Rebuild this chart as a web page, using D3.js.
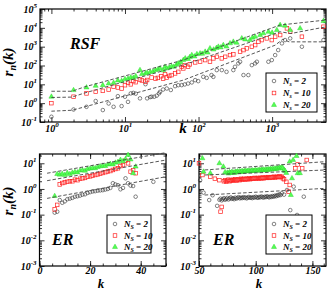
<!DOCTYPE html>
<html>
<head>
<meta charset="utf-8">
<script src="https://cdn.jsdelivr.net/npm/d3@7"></script>
<style>
  body { margin: 0; background: #fff; }
  text { font-family: "Liberation Serif", "DejaVu Serif", serif; font-weight: bold; font-style: italic; }
</style>
</head>
<body>
<svg width="327" height="291"></svg>
<script>
// ---- data: [k, r_n(k)] ----
const legendLabels = ["2", "10", "20"]

// RSF network
const rsfNs2 = [[1,0.19],[2,0.46],[3,0.64],[4,1.3],[5,0.43],[6,0.96],[7,0.64],[8,2.35],[9,0.7],[10,2.2],[11,1.17],[12,3.3],[13,3.5],[14,3.2],[16,1.8],[19,10.2],[20,1.8],[22,2.1],[23,2.2],[25,2.2],[27,2.5],[29,3.3],[30,4],[33,5.3],[37,6],[42,5],[48,8],[53,9],[59,9.1],[65,9.9],[72,11],[81,12.6],[90,16.7],[99,14.8],[116,25],[129,22],[150,31],[159,25],[177,57],[207,57],[240,46],[297,57],[313,85],[347,129],[367,158],[408,31],[475,31],[530,105],[588,129],[620,158],[890,158],[990,194],[1100,357],[1210,660],[1360,1500],[1500,2240],[1760,2760],[2540,990],[4990,2240]]
const rsfNs10 = [[1,1.0],[2,2.2],[3,3.3],[4,4],[5,4.5],[6,5.3],[7,7.4],[8,6.8],[9,6],[10,9],[11,12],[12,10],[13,15],[14,13],[16,18],[17,16],[19,14],[20,17],[23,23],[26,20],[28,22],[31,27],[33,20],[35,35],[37,23],[40,28],[43,31],[48,38],[53,46],[59,85],[62,70],[65,105],[72,85],[76,114],[90,146],[105,158],[123,194],[143,158],[159,239],[177,290],[207,239],[230,290],[268,357],[297,390],[367,537],[408,660],[453,813],[530,990],[588,1217],[651,1820],[724,2240],[847,2760],[990,2240],[1100,3380],[1285,4140],[1590,9400],[1760,6170],[2540,3380],[4990,11400]]
const rsfNs20 = [[1,2.2],[2,4.9],[3,6.8],[4,8.3],[5,9],[6,11],[7,12],[8,16],[9,15],[10,19],[11,20],[12,23],[13,22],[14,27],[16,57],[17,35],[19,38],[20,41],[22,45],[24,48],[26,57],[28,62],[30,70],[33,55],[35,85],[37,70],[40,78],[43,90],[46,85],[50,110],[53,130],[57,150],[62,195],[66,239],[72,220],[76,280],[81,357],[88,300],[95,400],[105,437],[112,420],[123,537],[133,480],[143,813],[160,700],[175,850],[186,990],[200,900],[217,1217],[240,1000],[268,1500],[297,1820],[330,1600],[387,2760],[430,2400],[500,2240],[540,3000],[588,3380],[687,4140],[760,5100],[891,6170],[1000,5500],[1160,7600],[1285,14100],[1500,12900],[1760,7600],[2400,9400],[4990,23000]]
const rsfFit2 = [[1,0.375],[1.9,0.42],[2.85,0.64],[62,16.7],[1100,1200],[1400,2500],[1700,1800],[5200,1800]]
const rsfFit10 = [[1,2.0],[1.9,2.1],[2.85,3.5],[62,105],[1285,6170],[1800,5000],[5200,11000]]
const rsfFit20 = [[1,4.3],[1.9,4.3],[2.85,7.4],[62,195],[1285,14100],[5200,25600]]

// ER network, small k
const erANs2 = [[6,0.12],[7,0.13],[8,0.37],[9,0.29],[10,0.33],[11,0.4],[12,0.42],[13,0.45],[14,0.5],[15,0.52],[16,0.55],[17,0.6],[18,0.62],[19,0.7],[20,0.75],[21,0.8],[22,0.82],[23,0.86],[24,0.88],[25,0.9],[26,0.95],[27,1.0],[28,1.1],[29,1.67],[30,1.5],[31,1.4],[32,0.97],[33,1.1],[34,2.6],[35,1.67],[36,1.35],[37,1.3],[38,0.5],[45,1.9]]
const erANs10 = [[6,0.16],[7,0.24],[8,1.5],[9,1.7],[10,1.8],[11,1.9],[12,2.0],[13,2.0],[14,2.3],[15,2.2],[16,2.5],[17,2.6],[18,2.7],[19,3.0],[20,3.1],[21,3.3],[22,3.5],[23,3.7],[24,3.9],[25,4.2],[26,4.5],[27,4.8],[28,5.0],[29,5.5],[30,6.0],[31,6.4],[32,7.8],[33,8.5],[34,12.6],[35,10],[36,4.7],[37,5.3],[38,4.1]]
const erANs20 = [[6,0.53],[7,3.8],[8,3.6],[9,3.9],[10,3.5],[11,4.2],[12,3.8],[13,4.3],[14,4.6],[15,4.4],[16,5.2],[17,5.4],[18,5.1],[19,6.0],[20,6.2],[21,6.6],[22,6.4],[23,7.1],[24,7.6],[25,8.0],[26,7.8],[27,8.9],[28,9.4],[29,9.0],[30,10.5],[31,11.2],[32,13.5],[33,12.0],[34,14.5],[35,21],[36,14],[37,4.1],[38,7.4]]
const erAFit2 = [[3,0.43],[50,3.0]]
const erAFit10 = [[3,2.1],[50,13.4]]
const erAFit20 = [[3,4.1],[50,26]]

// ER network, large k
const erBNs2 = [[51,2.2],[54,0.72],[59,0.37],[62,0.57],[66,0.22],[68,0.38],[69,0.42],[70,0.36],[71,0.40],[72,0.44],[73,0.38],[74,0.41],[75,0.45],[76,0.39],[77,0.43],[78,0.47],[79,0.41],[80,0.44],[81,0.40],[82,0.46],[83,0.42],[84,0.45],[85,0.48],[86,0.43],[87,0.46],[88,0.44],[89,0.48],[90,0.45],[91,0.47],[92,0.43],[93,0.46],[94,0.49],[95,0.45],[96,0.47],[97,0.44],[98,0.48],[99,0.46],[100,0.50],[101,0.47],[102,0.45],[103,0.49],[104,0.47],[105,0.51],[106,0.48],[107,0.46],[108,0.50],[109,0.48],[110,0.52],[111,0.49],[112,0.47],[113,0.51],[114,0.49],[115,0.53],[116,0.50],[117,0.55],[118,0.52],[119,0.58],[120,0.55],[121,0.62],[122,0.58],[123,0.68],[125,0.6],[127.6,0.91],[130.5,0.15],[133.5,1.23],[136.5,0.097],[142.4,0.5]]
const erBNs10 = [[50,10],[53,3.5],[60,3.0],[64,2.5],[68,2.2],[69,0.13],[70,0.2],[72,2.0],[73,2.2],[74,1.9],[75,2.1],[76,2.3],[77,2.0],[78,2.2],[79,2.1],[80,2.3],[81,2.2],[82,2.4],[83,2.1],[84,2.3],[85,2.4],[86,2.2],[87,2.5],[88,2.3],[89,2.4],[90,2.5],[91,2.3],[92,2.5],[93,2.4],[94,2.6],[95,2.4],[96,2.5],[97,2.6],[98,2.5],[99,2.7],[100,2.5],[101,2.6],[102,2.7],[103,2.5],[104,2.7],[105,2.6],[106,2.8],[107,2.6],[108,2.7],[109,2.8],[110,2.7],[111,2.9],[112,2.7],[113,2.8],[114,2.9],[115,2.8],[116,3.0],[117,2.8],[118,2.9],[119,3.0],[120,2.9],[121,3.1],[122,2.9],[123,3.0],[124,2.6],[125,2.4],[127,1.9],[129,0.79],[130,1.43],[135,6.4],[137,9],[141,6.4],[145,13.4]]
const erBNs20 = [[53,15.6],[54,4.7],[60,4.1],[68,10],[71.5,7.4],[73,4.5],[75,4.3],[76,4.0],[77,4.5],[78,4.2],[79,4.6],[80,4.4],[81,4.2],[82,4.7],[83,4.5],[84,4.8],[85,4.4],[86,4.9],[87,4.6],[88,5.0],[89,4.7],[90,4.9],[91,5.1],[92,4.8],[93,5.0],[94,5.2],[95,4.9],[96,5.1],[97,5.3],[98,5.0],[99,5.2],[100,5.4],[101,5.1],[102,5.3],[103,5.5],[104,5.2],[105,5.6],[106,5.4],[107,5.7],[108,5.3],[109,5.8],[110,5.5],[111,5.9],[112,5.6],[113,6.0],[114,5.7],[115,6.1],[116,5.8],[117,6.3],[118,6.0],[119,6.5],[120,6.2],[121,6.8],[122,6.4],[123,7.0],[124,6.6],[125,5.5],[126,5.0],[127,4.2],[130,11.6],[131,0.58],[132,2.6],[133,13.4],[136,19.2],[137,4.1],[139,4.1]]
const erBFit2 = [[55,0.58],[162,1.06]]
const erBFit10 = [[55,3.5],[162,5.5]]
const erBFit20 = [[55,5.5],[162,11.6]]

// ---- drawing ----
const svg = d3.select("svg")

const sup = (t, base, exp) => {
    t.text(null)
    t.append("tspan").text(base)
    t.append("tspan").attr("dy", -5).attr("font-size", 7).text(exp)
}

function logTickValues(domain) {
    const lo = Math.floor(Math.log10(domain[0])), hi = Math.ceil(Math.log10(domain[1]))
    const minor = [], major = []
    for (let e = lo; e <= hi; e++) {
        for (let d = 1; d < 10; d++) {
            const v = d * Math.pow(10, e)
            if (v < domain[0] * 0.999 || v > domain[1] * 1.001) continue
            if (d === 1) major.push(v); else minor.push(v)
        }
    }
    return { major, minor }
}

function linTickValues(domain, step, minorStep) {
    return {
        major: d3.range(Math.ceil(domain[0] / step) * step, domain[1] + 1e-9, step),
        minor: d3.range(Math.ceil(domain[0] / minorStep) * minorStep, domain[1] + 1e-9, minorStep)
    }
}

const triangle = d3.symbol(d3.symbolTriangle, 11)

function drawPanel(p) {
    const x = p.x, y = p.y
    const [x0, x1] = x.range(), [y1, y0] = y.range()
    const g = svg.append("g")

    const xt = p.xLog ? logTickValues(x.domain()) : linTickValues(x.domain(), p.xStep, p.xMinor)
    const yt = logTickValues(y.domain())

    const axes = [
        [d3.axisBottom(x), xt, "translate(0," + y1 + ")", true, p.xLog ? 3 : 1],
        [d3.axisTop(x), xt, "translate(0," + y0 + ")", false, 3],
        [d3.axisLeft(y), yt, "translate(" + x0 + ",0)", true, 3],
        [d3.axisRight(y), yt, "translate(" + x1 + ",0)", false, 3]
    ]
    axes.forEach(([ax, t, tr, labels, pad], i) => {
        g.append("g").attr("transform", tr)
            .call(ax.tickValues(t.minor).tickSizeInner(-2.5).tickSizeOuter(0).tickFormat(""))
            .call(a => a.select(".domain").remove())
        const maj = g.append("g").attr("transform", tr)
            .call(ax.tickValues(t.major).tickSizeInner(-5).tickSizeOuter(0).tickPadding(pad)
                .tickFormat(labels ? (d => d) : ""))
            .call(a => a.select(".domain").remove())
        if (labels) {
            maj.selectAll("text")
                .attr("font-size", 10)
                .attr("fill", "#000")
                .each(function (d) {
                    const t = d3.select(this)
                    if (i === 0 && !p.xLog) t.text(d)
                    else sup(t, "10", Math.round(Math.log10(d)))
                })
        }
    })
    g.selectAll(".tick line").attr("stroke", "#000").attr("stroke-width", 0.8)

    g.append("rect")
        .attr("x", x0).attr("y", y0)
        .attr("width", x1 - x0).attr("height", y1 - y0)
        .attr("fill", "none").attr("stroke", "#000").attr("stroke-width", 1.2)

    const plot = g.append("g")
    const line = d3.line().x(d => x(d[0])).y(d => y(d[1]))

    // points: circles, squares, triangles
    plot.selectAll("circle").data(p.s2).enter().append("circle")
        .attr("cx", d => x(d[0])).attr("cy", d => y(d[1])).attr("r", 1.8)
        .attr("fill", "none").attr("stroke", "#333").attr("stroke-width", 0.6)
    plot.selectAll("rect.sq").data(p.s10).enter().append("rect").attr("class", "sq")
        .attr("x", d => x(d[0]) - 1.8).attr("y", d => y(d[1]) - 1.8).attr("width", 3.6).attr("height", 3.6)
        .attr("fill", "none").attr("stroke", "#f22").attr("stroke-width", 0.7)
    plot.selectAll("path.tri").data(p.s20).enter().append("path").attr("class", "tri")
        .attr("d", triangle)
        .attr("transform", d => "translate(" + x(d[0]) + "," + y(d[1]) + ")")
        .attr("fill", "#55ff55").attr("stroke", "#22cc22").attr("stroke-width", 0.4)

    ;[p.f2, p.f10, p.f20].forEach(f => {
        plot.append("path").datum(f).attr("d", line)
            .attr("fill", "none").attr("stroke", "#444").attr("stroke-width", 0.9)
            .attr("stroke-dasharray", "3.5,2")
    })

    // legend
    const L = p.legend
    g.append("rect").attr("x", L.x).attr("y", L.y).attr("width", L.w).attr("height", L.h)
        .attr("fill", "#fff").attr("stroke", "#000").attr("stroke-width", 1)
    legendLabels.forEach((lab, i) => {
        const ly = L.y + L.first + i * L.step
        const mx = L.x + 8
        if (i === 0) g.append("circle").attr("cx", mx).attr("cy", ly).attr("r", 1.8)
            .attr("fill", "none").attr("stroke", "#333").attr("stroke-width", 0.6)
        if (i === 1) g.append("rect").attr("x", mx - 1.8).attr("y", ly - 1.8).attr("width", 3.6).attr("height", 3.6)
            .attr("fill", "none").attr("stroke", "#f22").attr("stroke-width", 0.7)
        if (i === 2) g.append("path").attr("d", triangle)
            .attr("transform", "translate(" + mx + "," + ly + ")")
            .attr("fill", "#55ff55").attr("stroke", "#22cc22").attr("stroke-width", 0.4)
        const t = g.append("text").attr("x", L.x + 17).attr("y", ly + 3).attr("font-size", 9)
            .attr("font-weight", "normal")
        t.append("tspan").text("N")
        t.append("tspan").attr("dy", 2).attr("font-size", 6).text(L.sub)
        t.append("tspan").attr("dy", -2).text(" = " + lab)
    })

    g.append("text").attr("x", p.name[0]).attr("y", p.name[1])
        .attr("font-size", 16).text(p.name[2])
}

// top panel: RSF
drawPanel({
    x: d3.scaleLog().domain([0.7, 5400]).range([40, 326]),
    y: d3.scaleLog().domain([0.1, 1e5]).range([122, 9]),
    xLog: true,
    s2: rsfNs2, s10: rsfNs10, s20: rsfNs20,
    f2: rsfFit2, f10: rsfFit10, f20: rsfFit20,
    legend: { x: 266, y: 73, w: 51, h: 39, first: 8, step: 12, sub: "s" },
    name: [70, 49, "RSF"]
})

// bottom left: ER, small k
drawPanel({
    x: d3.scaleLinear().domain([0, 50]).range([39.5, 166]),
    y: d3.scaleLog().domain([1e-3, 23]).range([266, 154]),
    xLog: false, xStep: 20, xMinor: 5,
    s2: erANs2, s10: erANs10, s20: erANs20,
    f2: erAFit2, f10: erAFit10, f20: erAFit20,
    legend: { x: 107, y: 215, w: 44, h: 38, first: 9, step: 11.5, sub: "S" },
    name: [52, 245, "ER"]
})

// bottom right: ER, large k
drawPanel({
    x: d3.scaleLinear().domain([50, 162]).range([199, 326]),
    y: d3.scaleLog().domain([1e-3, 23]).range([266, 154]),
    xLog: false, xStep: 50, xMinor: 10,
    s2: erBNs2, s10: erBNs10, s20: erBNs20,
    f2: erBFit2, f10: erBFit10, f20: erBFit20,
    legend: { x: 266, y: 215, w: 46, h: 39, first: 9, step: 11.5, sub: "S" },
    name: [213, 245, "ER"]
})

// axis titles
const yTitle = (cx, cy) => {
    const t = svg.append("text").attr("transform", "translate(" + cx + "," + cy + ") rotate(-90)")
        .attr("text-anchor", "middle").attr("font-size", 15)
    t.append("tspan").text("r")
    t.append("tspan").attr("dy", 3).attr("font-size", 10).text("n")
    t.append("tspan").attr("dy", -3).text("(k)")
}
yTitle(13, 62)
yTitle(13, 201)

svg.append("text").attr("x", 183).attr("y", 133).attr("text-anchor", "middle").attr("font-size", 15).text("k")
svg.append("text").attr("x", 101).attr("y", 288).attr("text-anchor", "middle").attr("font-size", 13).text("k")
svg.append("text").attr("x", 259).attr("y", 288).attr("text-anchor", "middle").attr("font-size", 13).text("k")
</script>
</body>
</html>
